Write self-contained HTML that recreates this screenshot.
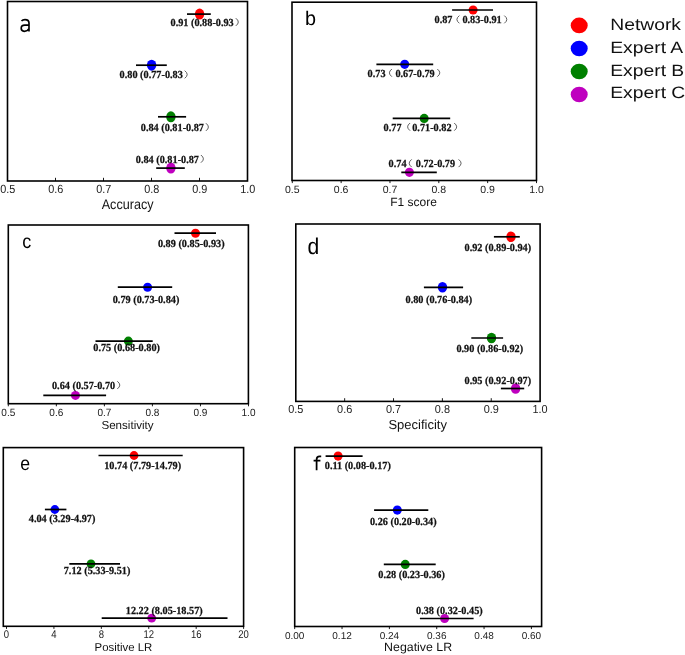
<!DOCTYPE html>
<html><head><meta charset="utf-8"><style>
html,body{margin:0;padding:0;background:#fff;}
svg{display:block;will-change:transform;text-rendering:geometricPrecision;}
.tk{font-family:"Liberation Sans",sans-serif;fill:#222;}
.al{font-family:"Liberation Sans",sans-serif;fill:#111;}
.pl{font-family:"Liberation Sans",sans-serif;fill:#000;}
.an{font-family:"Liberation Serif",serif;font-weight:bold;font-size:10.8px;fill:#111;stroke:#111;stroke-width:0.25;}
.pp{fill:none;stroke:#555;stroke-width:0.95;}
.lg{font-family:"Liberation Sans",sans-serif;font-size:16.5px;fill:#111;}
</style></head><body>
<svg width="685" height="655" viewBox="0 0 685 655">
<rect x="7.5" y="1.5" width="240.00" height="179.50" fill="none" stroke="#000" stroke-width="1.6"/>
<line x1="55.50" y1="181" x2="55.50" y2="177.8" stroke="#000" stroke-width="0.9"/>
<line x1="103.50" y1="181" x2="103.50" y2="177.8" stroke="#000" stroke-width="0.9"/>
<line x1="151.50" y1="181" x2="151.50" y2="177.8" stroke="#000" stroke-width="0.9"/>
<line x1="199.50" y1="181" x2="199.50" y2="177.8" stroke="#000" stroke-width="0.9"/>
<text transform="translate(7.70,192.9) scale(0.92,1)" class="tk" style="font-size:11.8px" text-anchor="middle">0.5</text>
<text transform="translate(55.70,192.9) scale(0.92,1)" class="tk" style="font-size:11.8px" text-anchor="middle">0.6</text>
<text transform="translate(103.70,192.9) scale(0.92,1)" class="tk" style="font-size:11.8px" text-anchor="middle">0.7</text>
<text transform="translate(151.70,192.9) scale(0.92,1)" class="tk" style="font-size:11.8px" text-anchor="middle">0.8</text>
<text transform="translate(199.70,192.9) scale(0.92,1)" class="tk" style="font-size:11.8px" text-anchor="middle">0.9</text>
<text transform="translate(247.70,192.9) scale(0.92,1)" class="tk" style="font-size:11.8px" text-anchor="middle">1.0</text>
<text transform="translate(101.70,209.3) scale(0.9,1)" class="al" style="font-size:14px">Accuracy</text>
<path d="M21.5,21.0 C22.4,19.9 23.6,19.55 25,19.55 C27.6,19.55 29.0,20.7 29.0,23.0 L29.0,31.6 M29.0,25.1 L24.8,25.1 C22.2,25.1 21.2,26.5 21.2,28.35 C21.2,30.2 22.4,31.3 24.2,31.3 C26.4,31.3 28.2,30.1 29.0,28.5" fill="none" stroke="#000" stroke-width="1.65"/>
<ellipse cx="199.6" cy="14.1" rx="4.7" ry="5.5" fill="#ff0000"/>
<line x1="187" y1="14.1" x2="210.8" y2="14.1" stroke="#000" stroke-width="1.7"/>
<ellipse cx="151.6" cy="65.2" rx="4.7" ry="5.5" fill="#0000ff"/>
<line x1="136" y1="65.2" x2="166.8" y2="65.2" stroke="#000" stroke-width="1.7"/>
<ellipse cx="170.9" cy="116.8" rx="4.7" ry="5.5" fill="#008000"/>
<line x1="158" y1="116.8" x2="186.1" y2="116.8" stroke="#000" stroke-width="1.7"/>
<ellipse cx="170.9" cy="168.1" rx="4.7" ry="5.5" fill="#bf00bf"/>
<line x1="156.2" y1="168.1" x2="184.8" y2="168.1" stroke="#000" stroke-width="1.7"/>
<text transform="translate(170.50,25.7) scale(0.95,1)" class="an">0.91 (0.88-0.93</text><path d="M235.80,18.20 Q240.80,22.05 235.80,25.90" class="pp"/>
<text transform="translate(119.60,78.15) scale(0.95,1)" class="an">0.80 (0.77-0.83</text><path d="M184.70,70.65 Q189.70,74.50 184.70,78.35" class="pp"/>
<text transform="translate(140.75,130.7) scale(0.95,1)" class="an">0.84 (0.81-0.87</text><path d="M205.90,123.20 Q210.90,127.05 205.90,130.90" class="pp"/>
<text transform="translate(135.75,162.5) scale(0.95,1)" class="an">0.84 (0.81-0.87</text><path d="M200.90,155.00 Q205.90,158.85 200.90,162.70" class="pp"/>
<rect x="292" y="2.2" width="244.50" height="178.30" fill="none" stroke="#000" stroke-width="1.6"/>
<line x1="292.30" y1="180.5" x2="292.30" y2="183.1" stroke="#000" stroke-width="0.9"/>
<line x1="341.14" y1="180.5" x2="341.14" y2="183.1" stroke="#000" stroke-width="0.9"/>
<line x1="389.98" y1="180.5" x2="389.98" y2="183.1" stroke="#000" stroke-width="0.9"/>
<line x1="438.82" y1="180.5" x2="438.82" y2="183.1" stroke="#000" stroke-width="0.9"/>
<line x1="487.66" y1="180.5" x2="487.66" y2="183.1" stroke="#000" stroke-width="0.9"/>
<line x1="536.50" y1="180.5" x2="536.50" y2="183.1" stroke="#000" stroke-width="0.9"/>
<text transform="translate(292.30,192.7) scale(1.0,1)" class="tk" style="font-size:10.5px" text-anchor="middle">0.5</text>
<text transform="translate(341.14,192.7) scale(1.0,1)" class="tk" style="font-size:10.5px" text-anchor="middle">0.6</text>
<text transform="translate(389.98,192.7) scale(1.0,1)" class="tk" style="font-size:10.5px" text-anchor="middle">0.7</text>
<text transform="translate(438.82,192.7) scale(1.0,1)" class="tk" style="font-size:10.5px" text-anchor="middle">0.8</text>
<text transform="translate(487.66,192.7) scale(1.0,1)" class="tk" style="font-size:10.5px" text-anchor="middle">0.9</text>
<text transform="translate(536.50,192.7) scale(1.0,1)" class="tk" style="font-size:10.5px" text-anchor="middle">1.0</text>
<text transform="translate(390.14,205.6) scale(1.0,1)" class="al" style="font-size:12px">F1 score</text>
<text transform="translate(305.01,24.62) scale(1.0,1)" class="pl" style="font-size:19.8px">b</text>
<ellipse cx="473.1" cy="10" rx="4.5" ry="4.6" fill="#ff0000"/>
<line x1="452.1" y1="10" x2="493" y2="10" stroke="#000" stroke-width="1.7"/>
<ellipse cx="404.7" cy="64.3" rx="4.5" ry="4.6" fill="#0000ff"/>
<line x1="376.4" y1="64.3" x2="433.2" y2="64.3" stroke="#000" stroke-width="1.7"/>
<ellipse cx="424.2" cy="118.4" rx="4.5" ry="4.6" fill="#008000"/>
<line x1="392.7" y1="118.4" x2="450.2" y2="118.4" stroke="#000" stroke-width="1.7"/>
<ellipse cx="409.4" cy="172.3" rx="4.5" ry="4.6" fill="#bf00bf"/>
<line x1="401.3" y1="172.3" x2="436.8" y2="172.3" stroke="#000" stroke-width="1.7"/>
<text transform="translate(434.50,23.1) scale(0.95,1)" class="an">0.87</text><path d="M459.40,15.60 Q454.40,19.45 459.40,23.30" class="pp"/><text transform="translate(462.40,23.1) scale(0.95,1)" class="an">0.83-0.91</text><path d="M504.30,15.60 Q509.30,19.45 504.30,23.30" class="pp"/>
<text transform="translate(367.60,76.5) scale(0.95,1)" class="an">0.73</text><path d="M391.90,69.00 Q386.90,72.85 391.90,76.70" class="pp"/><text transform="translate(395.40,76.5) scale(0.95,1)" class="an">0.67-0.79</text><path d="M437.30,69.00 Q442.30,72.85 437.30,76.70" class="pp"/>
<text transform="translate(383.60,130.5) scale(0.95,1)" class="an">0.77</text><path d="M410.10,123.00 Q405.10,126.85 410.10,130.70" class="pp"/><text transform="translate(412.20,130.5) scale(0.95,1)" class="an">0.71-0.82</text><path d="M454.20,123.00 Q459.20,126.85 454.20,130.70" class="pp"/>
<text transform="translate(388.60,166.9) scale(0.95,1)" class="an">0.74</text><path d="M411.70,159.40 Q406.70,163.25 411.70,167.10" class="pp"/><text transform="translate(415.80,166.9) scale(0.95,1)" class="an">0.72-0.79</text><path d="M458.60,159.40 Q463.60,163.25 458.60,167.10" class="pp"/>
<rect x="8.3" y="225" width="240.10" height="178.70" fill="none" stroke="#000" stroke-width="1.6"/>
<line x1="8.30" y1="403.7" x2="8.30" y2="406.3" stroke="#000" stroke-width="0.9"/>
<line x1="56.34" y1="403.7" x2="56.34" y2="406.3" stroke="#000" stroke-width="0.9"/>
<line x1="104.38" y1="403.7" x2="104.38" y2="406.3" stroke="#000" stroke-width="0.9"/>
<line x1="152.42" y1="403.7" x2="152.42" y2="406.3" stroke="#000" stroke-width="0.9"/>
<line x1="200.46" y1="403.7" x2="200.46" y2="406.3" stroke="#000" stroke-width="0.9"/>
<line x1="248.50" y1="403.7" x2="248.50" y2="406.3" stroke="#000" stroke-width="0.9"/>
<text transform="translate(8.30,415.5) scale(0.955,1)" class="tk" style="font-size:10.5px" text-anchor="middle">0.5</text>
<text transform="translate(56.34,415.5) scale(0.955,1)" class="tk" style="font-size:10.5px" text-anchor="middle">0.6</text>
<text transform="translate(104.38,415.5) scale(0.955,1)" class="tk" style="font-size:10.5px" text-anchor="middle">0.7</text>
<text transform="translate(152.42,415.5) scale(0.955,1)" class="tk" style="font-size:10.5px" text-anchor="middle">0.8</text>
<text transform="translate(200.46,415.5) scale(0.955,1)" class="tk" style="font-size:10.5px" text-anchor="middle">0.9</text>
<text transform="translate(248.50,415.5) scale(0.955,1)" class="tk" style="font-size:10.5px" text-anchor="middle">1.0</text>
<text transform="translate(101.42,428.5) scale(1.0,1)" class="al" style="font-size:11.6px">Sensitivity</text>
<text transform="translate(22.34,247.72) scale(0.92,1)" class="pl" style="font-size:19.6px">c</text>
<ellipse cx="195.5" cy="233.2" rx="4.5" ry="4.5" fill="#ff0000"/>
<line x1="174.5" y1="233.2" x2="216" y2="233.2" stroke="#000" stroke-width="1.7"/>
<ellipse cx="147.6" cy="287.2" rx="4.5" ry="4.5" fill="#0000ff"/>
<line x1="117.8" y1="287.2" x2="172.2" y2="287.2" stroke="#000" stroke-width="1.7"/>
<ellipse cx="128.35" cy="341.1" rx="4.5" ry="4.5" fill="#008000"/>
<line x1="95.5" y1="341.1" x2="152.7" y2="341.1" stroke="#000" stroke-width="1.7"/>
<ellipse cx="75.45" cy="395.4" rx="4.5" ry="4.5" fill="#bf00bf"/>
<line x1="43.3" y1="395.4" x2="106.1" y2="395.4" stroke="#000" stroke-width="1.7"/>
<text transform="translate(157.90,246.8) scale(0.95,1)" class="an">0.89 (0.85-0.93)</text>
<text transform="translate(112.70,302.8) scale(0.95,1)" class="an">0.79 (0.73-0.84)</text>
<text transform="translate(93.30,351.2) scale(0.95,1)" class="an">0.75 (0.68-0.80)</text>
<text transform="translate(51.95,388.75) scale(0.95,1)" class="an">0.64 (0.57-0.70</text><path d="M117.30,381.25 Q122.30,385.10 117.30,388.95" class="pp"/>
<rect x="295.8" y="224" width="244.30" height="177.40" fill="none" stroke="#000" stroke-width="1.6"/>
<line x1="344.66" y1="401.4" x2="344.66" y2="398.2" stroke="#000" stroke-width="0.9"/>
<line x1="393.52" y1="401.4" x2="393.52" y2="398.2" stroke="#000" stroke-width="0.9"/>
<line x1="442.38" y1="401.4" x2="442.38" y2="398.2" stroke="#000" stroke-width="0.9"/>
<line x1="491.24" y1="401.4" x2="491.24" y2="398.2" stroke="#000" stroke-width="0.9"/>
<text transform="translate(295.80,413.4) scale(0.94,1)" class="tk" style="font-size:11.6px" text-anchor="middle">0.5</text>
<text transform="translate(344.66,413.4) scale(0.94,1)" class="tk" style="font-size:11.6px" text-anchor="middle">0.6</text>
<text transform="translate(393.52,413.4) scale(0.94,1)" class="tk" style="font-size:11.6px" text-anchor="middle">0.7</text>
<text transform="translate(442.38,413.4) scale(0.94,1)" class="tk" style="font-size:11.6px" text-anchor="middle">0.8</text>
<text transform="translate(491.24,413.4) scale(0.94,1)" class="tk" style="font-size:11.6px" text-anchor="middle">0.9</text>
<text transform="translate(540.10,413.4) scale(0.94,1)" class="tk" style="font-size:11.6px" text-anchor="middle">1.0</text>
<text transform="translate(388.45,428.5) scale(1.0,1)" class="al" style="font-size:13px">Specificity</text>
<text transform="translate(307.61,253.80) scale(0.93,1)" class="pl" style="font-size:22.7px">d</text>
<ellipse cx="511" cy="236.8" rx="4.7" ry="5.3" fill="#ff0000"/>
<line x1="493.9" y1="236.8" x2="519.8" y2="236.8" stroke="#000" stroke-width="1.7"/>
<ellipse cx="442.5" cy="287.3" rx="4.7" ry="5.3" fill="#0000ff"/>
<line x1="423.9" y1="287.3" x2="463.1" y2="287.3" stroke="#000" stroke-width="1.7"/>
<ellipse cx="491.5" cy="338" rx="4.7" ry="5.3" fill="#008000"/>
<line x1="471.3" y1="338" x2="503.1" y2="338" stroke="#000" stroke-width="1.7"/>
<ellipse cx="515.6" cy="388.5" rx="4.7" ry="5.3" fill="#bf00bf"/>
<line x1="500.9" y1="388.5" x2="524.2" y2="388.5" stroke="#000" stroke-width="1.7"/>
<text transform="translate(464.50,251.45) scale(0.95,1)" class="an">0.92 (0.89-0.94)</text>
<text transform="translate(405.50,303.3) scale(0.95,1)" class="an">0.80 (0.76-0.84)</text>
<text transform="translate(456.40,352.2) scale(0.95,1)" class="an">0.90 (0.86-0.92)</text>
<text transform="translate(464.50,384.4) scale(0.95,1)" class="an">0.95 (0.92-0.97)</text>
<rect x="3.3" y="447.6" width="240.30" height="178.70" fill="none" stroke="#000" stroke-width="1.6"/>
<line x1="6.50" y1="626.3" x2="6.50" y2="628.9" stroke="#000" stroke-width="0.9"/>
<line x1="53.92" y1="626.3" x2="53.92" y2="628.9" stroke="#000" stroke-width="0.9"/>
<line x1="101.34" y1="626.3" x2="101.34" y2="628.9" stroke="#000" stroke-width="0.9"/>
<line x1="148.76" y1="626.3" x2="148.76" y2="628.9" stroke="#000" stroke-width="0.9"/>
<line x1="196.18" y1="626.3" x2="196.18" y2="628.9" stroke="#000" stroke-width="0.9"/>
<line x1="243.60" y1="626.3" x2="243.60" y2="628.9" stroke="#000" stroke-width="0.9"/>
<text transform="translate(6.50,638.2) scale(0.85,1)" class="tk" style="font-size:11.2px" text-anchor="middle">0</text>
<text transform="translate(53.92,638.2) scale(0.85,1)" class="tk" style="font-size:11.2px" text-anchor="middle">4</text>
<text transform="translate(101.34,638.2) scale(0.85,1)" class="tk" style="font-size:11.2px" text-anchor="middle">8</text>
<text transform="translate(148.76,638.2) scale(0.85,1)" class="tk" style="font-size:11.2px" text-anchor="middle">12</text>
<text transform="translate(196.18,638.2) scale(0.85,1)" class="tk" style="font-size:11.2px" text-anchor="middle">16</text>
<text transform="translate(243.60,638.2) scale(0.85,1)" class="tk" style="font-size:11.2px" text-anchor="middle">20</text>
<text transform="translate(94.59,651.2) scale(1.0,1)" class="al" style="font-size:11.4px">Positive LR</text>
<text transform="translate(20.16,470.02) scale(0.9,1)" class="pl" style="font-size:19.6px">e</text>
<ellipse cx="134" cy="455.5" rx="4.4" ry="4.4" fill="#ff0000"/>
<line x1="98.5" y1="455.5" x2="182.7" y2="455.5" stroke="#000" stroke-width="1.7"/>
<ellipse cx="54.85" cy="509.5" rx="4.4" ry="4.4" fill="#0000ff"/>
<line x1="44.9" y1="509.5" x2="66.4" y2="509.5" stroke="#000" stroke-width="1.7"/>
<ellipse cx="91" cy="563.8" rx="4.4" ry="4.4" fill="#008000"/>
<line x1="69.3" y1="563.8" x2="120" y2="563.8" stroke="#000" stroke-width="1.7"/>
<ellipse cx="151.7" cy="618.2" rx="4.4" ry="4.4" fill="#bf00bf"/>
<line x1="101.7" y1="618.2" x2="227.5" y2="618.2" stroke="#000" stroke-width="1.7"/>
<text transform="translate(104.20,469.2) scale(0.95,1)" class="an">10.74 (7.79-14.79)</text>
<text transform="translate(28.75,521.8) scale(0.95,1)" class="an">4.04 (3.29-4.97)</text>
<text transform="translate(63.70,574.0) scale(0.95,1)" class="an">7.12 (5.33-9.51)</text>
<text transform="translate(125.80,613.8) scale(0.95,1)" class="an">12.22 (8.05-18.57)</text>
<rect x="294.7" y="447.5" width="246.90" height="179.00" fill="none" stroke="#000" stroke-width="1.6"/>
<line x1="294.70" y1="626.5" x2="294.70" y2="629.1" stroke="#000" stroke-width="0.9"/>
<line x1="342.04" y1="626.5" x2="342.04" y2="629.1" stroke="#000" stroke-width="0.9"/>
<line x1="389.38" y1="626.5" x2="389.38" y2="629.1" stroke="#000" stroke-width="0.9"/>
<line x1="436.72" y1="626.5" x2="436.72" y2="629.1" stroke="#000" stroke-width="0.9"/>
<line x1="484.06" y1="626.5" x2="484.06" y2="629.1" stroke="#000" stroke-width="0.9"/>
<line x1="531.40" y1="626.5" x2="531.40" y2="629.1" stroke="#000" stroke-width="0.9"/>
<text transform="translate(294.70,639.3) scale(1.0,1)" class="tk" style="font-size:10px" text-anchor="middle">0.00</text>
<text transform="translate(342.04,639.3) scale(1.0,1)" class="tk" style="font-size:10px" text-anchor="middle">0.12</text>
<text transform="translate(389.38,639.3) scale(1.0,1)" class="tk" style="font-size:10px" text-anchor="middle">0.24</text>
<text transform="translate(436.72,639.3) scale(1.0,1)" class="tk" style="font-size:10px" text-anchor="middle">0.36</text>
<text transform="translate(484.06,639.3) scale(1.0,1)" class="tk" style="font-size:10px" text-anchor="middle">0.48</text>
<text transform="translate(531.40,639.3) scale(1.0,1)" class="tk" style="font-size:10px" text-anchor="middle">0.60</text>
<text transform="translate(384.11,651.4) scale(1.03,1)" class="al" style="font-size:12px">Negative LR</text>
<path d="M316.6,470.3 L316.6,459.6 Q316.6,456.4 319.6,456.4 L321.2,456.4 M313.6,460.5 L320.4,460.5" fill="none" stroke="#000" stroke-width="1.75"/>
<ellipse cx="338.1" cy="456.1" rx="4.5" ry="4.6" fill="#ff0000"/>
<line x1="325.6" y1="456.1" x2="362.6" y2="456.1" stroke="#000" stroke-width="1.7"/>
<ellipse cx="397.3" cy="510.1" rx="4.5" ry="4.6" fill="#0000ff"/>
<line x1="374.1" y1="510.1" x2="428.3" y2="510.1" stroke="#000" stroke-width="1.7"/>
<ellipse cx="405.25" cy="564.4" rx="4.5" ry="4.6" fill="#008000"/>
<line x1="383.8" y1="564.4" x2="435.7" y2="564.4" stroke="#000" stroke-width="1.7"/>
<ellipse cx="444.6" cy="618.5" rx="4.5" ry="4.6" fill="#bf00bf"/>
<line x1="419.9" y1="618.5" x2="473.6" y2="618.5" stroke="#000" stroke-width="1.7"/>
<text transform="translate(324.75,469.1) scale(0.95,1)" class="an">0.11 (0.08-0.17)</text>
<text transform="translate(369.95,524.9) scale(0.95,1)" class="an">0.26 (0.20-0.34)</text>
<text transform="translate(378.25,578.1) scale(0.95,1)" class="an">0.28 (0.23-0.36)</text>
<text transform="translate(416.05,613.6) scale(0.95,1)" class="an">0.38 (0.32-0.45)</text>
<ellipse cx="579.2" cy="25.4" rx="8.5" ry="7.8" fill="#ff0000"/>
<text transform="translate(610.2,29.6) scale(1.17,1)" class="lg">Network</text>
<ellipse cx="579.2" cy="48.5" rx="8.5" ry="7.8" fill="#0000ff"/>
<text transform="translate(610.2,52.7) scale(1.17,1)" class="lg">Expert A</text>
<ellipse cx="579.2" cy="71.5" rx="8.5" ry="7.8" fill="#008000"/>
<text transform="translate(610.2,75.5) scale(1.17,1)" class="lg">Expert B</text>
<ellipse cx="579.2" cy="94.5" rx="8.5" ry="7.8" fill="#bf00bf"/>
<text transform="translate(610.2,98.4) scale(1.17,1)" class="lg">Expert C</text>
</svg>
</body></html>
